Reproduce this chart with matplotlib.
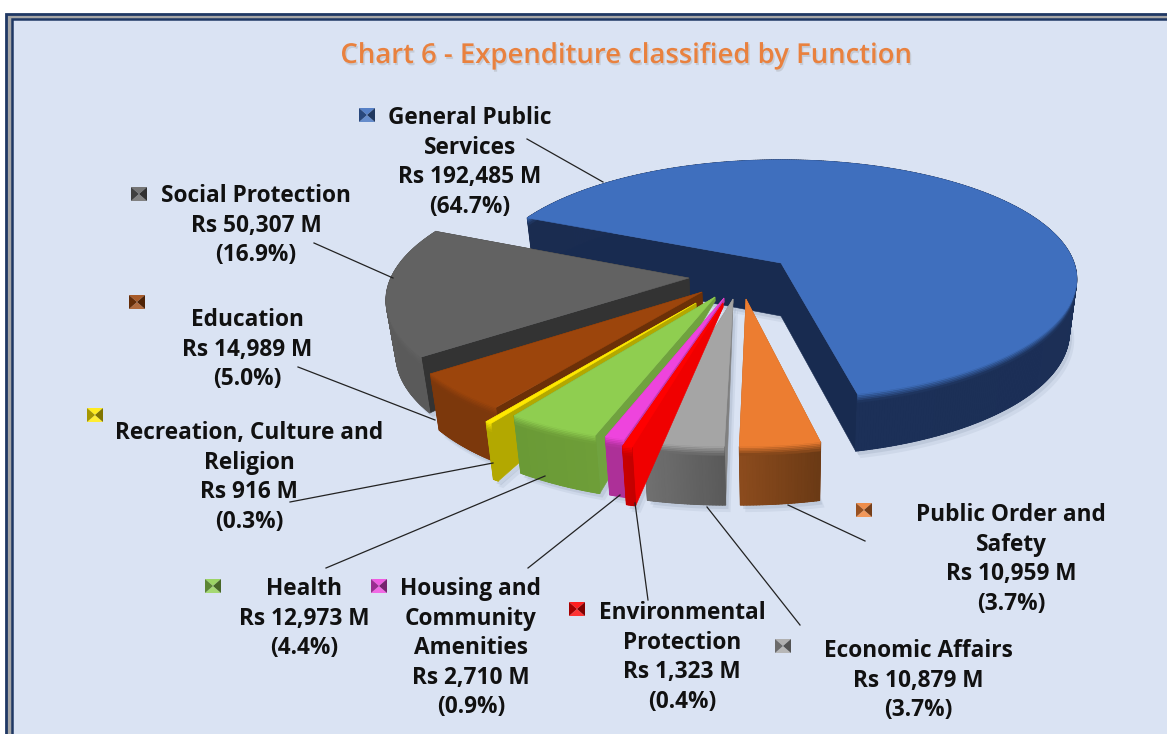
import numpy as np
import matplotlib
matplotlib.use("Agg")
import matplotlib.pyplot as plt
import matplotlib.patheffects as pe
from matplotlib.collections import PolyCollection
from matplotlib.colors import to_rgb
from matplotlib.patches import Polygon, Rectangle

# data, clockwise from General Public Services
names = ["General Public\nServices", "Public Order and\nSafety", "Economic Affairs",
         "Environmental\nProtection", "Housing and\nCommunity\nAmenities", "Health",
         "Recreation, Culture and\nReligion", "Education", "Social Protection"]
values = [192485, 10959, 10879, 1323, 2710, 12973, 916, 14989, 50307]
pcts = [64.7, 3.7, 3.7, 0.4, 0.9, 4.4, 0.3, 5.0, 16.9]

# colours: top, wall (left end), wall (right end), cut face
top_col = ["#3F6FBE", "#EC7D31", "#A5A5A5", "#FF0000", "#EE44DD", "#8FCE50", "#FFE800", "#9C450C", "#626262"]
wall_r = ["#1A2C50", "#6B3A15", "#5A5A5A", "#C40000", "#AD3098", "#6E9E38", "#B3A800", "#7C380C", "#5A5A5A"]
wall_l = ["#1C3058", "#8B4B1D", "#707070", "#C80000", "#AD3098", "#6A9A36", "#B3A800", "#7C380C", "#5C5C5C"]
face_col = ["#182B50", "#B5642A", "#808080", "#F00000", "#C238AC", "#70A23F", "#B3A800", "#6B3008", "#333333"]

# where each slice tip sits on screen (the explode of the original), and how deep the cut is there
tip_x = [781, 746, 733, 723, 724, 715, 696, 702, 689]
tip_y = [263, 299, 299, 303, 298, 297, 303, 292, 278]
tip_depth = [53, 3, 4, 4, 4, 4, 4, 13, 17]

# layout
label_x = [470, 1011, 918, 682, 471, 304, 249, 247, 256]
label_y = [116, 513, 649, 611, 587, 587, 431, 318, 194]
key_x = [367, 864, 783, 577, 379, 213, 95, 137, 139]
key_y = [115, 510, 646, 609, 586, 586, 415, 302, 194]
lead_x0 = [527, 865, 800, 648, 528, 326, 290, 298, 314]
lead_y0 = [139, 541, 625, 600, 568, 568, 502, 367, 243]
lead_x1 = [603, 788, 707, 635, 620, 545, 493, 435, 393]
lead_y1 = [182, 505, 507, 503, 495, 476, 463, 420, 278]

# projection of the tilted disc
X0, Y0, A, B, K, H = 781, 263, 293, 117, 0.135, 53
START = 204.0
BG = "#DAE3F3"
plt.rcParams["font.family"] = ["Open Sans", "DejaVu Sans"]


def project(u, v, z=0.0):
    d = 1 - K * v
    shrink = 1 - 0.025 * z / H
    return X0 + A * u / d * shrink, Y0 + B * v / d + z / np.sqrt(d)


def unproject(x, y):
    v = (y - Y0) / (B + K * (y - Y0))
    u = (x - X0) * (1 - K * v) / A
    return u, v


def mix(c1, c2, t):
    c1, c2 = np.array(to_rgb(c1)), np.array(to_rgb(c2))
    return tuple(c1 + (c2 - c1) * t)


fig = plt.figure(figsize=(11.67, 7.34), dpi=100)
ax = fig.add_axes([0, 0, 1, 1])
ax.set_xlim(0, 1167)
ax.set_ylim(734, 0)
ax.axis("off")

# panel and frame
ax.add_patch(Rectangle((6, 14), 1300, 900, fc="#A6A6A6", ec="#1F3864", lw=2, zorder=0))
ax.add_patch(Rectangle((11.5, 18.5), 1300, 900, fc=BG, ec="#1F3864", lw=1.8, zorder=0))

# slice angles from the values
sweep = np.array(values) / sum(values) * 360
starts = START + np.concatenate([[0], np.cumsum(sweep)[:-1]])


def slice_geom(i):
    th = np.radians(np.linspace(starts[i], starts[i] + sweep[i], max(int(sweep[i]) * 2, 6)))
    u0, v0 = unproject(tip_x[i], tip_y[i])
    return u0, v0, u0 + np.cos(th), v0 + np.sin(th)


def draw_shadow(i):
    u0, v0, us, vs = slice_geom(i)
    px, py = project(us, vs, H)
    tx, ty = project(u0, v0, tip_depth[i])
    px, py = np.r_[tx, px], np.r_[ty, py]
    for off, a in [(7, 0.18), (4, 0.3)]:
        ax.add_patch(Polygon(np.c_[px + off * 0.7, py + off], fc="#9AA8BC", ec="none", alpha=a))


def band(us, vs, z1, z2):
    xa, ya = project(us, vs, z1)
    xb, yb = project(us, vs, z2)
    return np.c_[np.r_[xa, xb[::-1]], np.r_[ya, yb[::-1]]]


def draw_slice(i):
    u0, v0, us, vs = slice_geom(i)
    # cut faces go first, the wall and the top hide the ones turned away
    for e in (0, -1):
        a = project(u0, v0)
        b = project(us[e], vs[e])
        c = project(us[e], vs[e], H)
        d = project(u0, v0, tip_depth[i])
        ax.add_patch(Polygon([a, b, c, d], fc=face_col[i], ec=face_col[i], lw=0.4))
    # outer wall
    ax.add_patch(Polygon(band(us, vs, 0, H), fc=wall_r[i], ec=wall_r[i], lw=0.4))
    n = len(us) - 1
    quads, cols = [], []
    for j in range(n):
        quads.append(band(us[j:j + 2], vs[j:j + 2], 0, H))
        cols.append(mix(wall_r[i], wall_l[i], j / max(n - 1, 1)))
    ax.add_collection(PolyCollection(quads, facecolors=cols, edgecolors=cols, linewidths=0.8))
    # soft bevel under the top rim
    mid = mix(wall_r[i], wall_l[i], 0.5)
    steps = [0, 1.5, 3, 4.5, 6, 8]
    for k in range(len(steps) - 1):
        c = mix(top_col[i], mid, (k + 0.5) / (len(steps) - 1))
        ax.add_patch(Polygon(band(us, vs, steps[k], steps[k + 1]), fc=c, ec=c, lw=0.2))
    # top
    px, py = project(np.r_[u0, us], np.r_[v0, vs])
    ax.add_patch(Polygon(np.c_[px, py], fc=top_col[i], ec=top_col[i], lw=0.4))


draw_shadow(0)
draw_slice(0)
order = [8, 7, 1, 2, 6, 5, 4, 3]
for i in order:
    draw_shadow(i)
for i in order:
    draw_slice(i)

# leader lines
for i in range(len(names)):
    ax.plot([lead_x0[i], lead_x1[i]], [lead_y0[i], lead_y1[i]], color="#222222", lw=0.9, zorder=5)

# labels
for i, name in enumerate(names):
    txt = f"{name}\nRs {values[i]:,} M\n({pcts[i]:.1f}%)"
    ax.text(label_x[i], label_y[i] - 10, txt, ha="center", va="top", fontsize=16.3,
            fontweight="bold", color="#111111", linespacing=1.31, zorder=6)

# legend keys, little bevelled squares
for i in range(len(names)):
    x, y, w, h = key_x[i], key_y[i], 8, 7
    c = (x, y)
    tl, tr, br, bl = (x - w, y - h), (x + w, y - h), (x + w, y + h), (x - w, y + h)
    base = top_col[i]
    ax.add_patch(Polygon([tl, tr, c], fc=mix(base, "#FFFFFF", 0.12), ec="none", zorder=6))
    ax.add_patch(Polygon([bl, br, c], fc=mix(base, "#FFFFFF", 0.2), ec="none", zorder=6))
    ax.add_patch(Polygon([tl, bl, c], fc=mix(base, "#000000", 0.35), ec="none", zorder=6))
    ax.add_patch(Polygon([tr, br, c], fc=mix(base, "#000000", 0.5), ec="none", zorder=6))

ax.text(626, 55.5, "Chart 6 - Expenditure classified by Function", ha="center", va="center",
        fontsize=19.8, fontweight="semibold", color="#E9813E", zorder=6,
        path_effects=[pe.withSimplePatchShadow(offset=(1, -1.5), shadow_rgbFace="#A0A0A0", alpha=0.35)])

fig.savefig("out.png", dpi=100)
